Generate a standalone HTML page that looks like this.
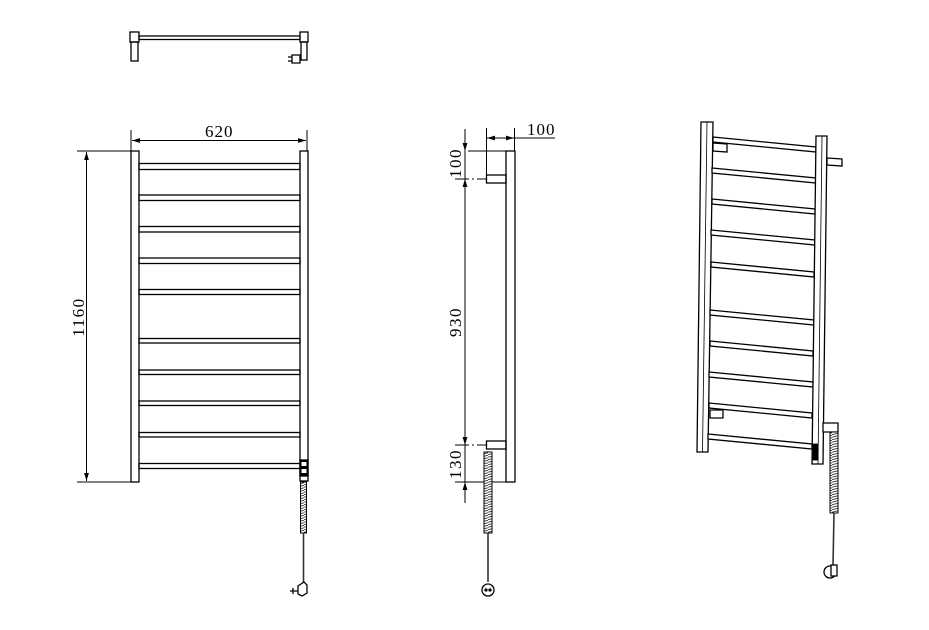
<!DOCTYPE html>
<html><head><meta charset="utf-8"><style>
html,body{margin:0;padding:0;background:#fff;}
svg{display:block;}
text{font-family:"Liberation Serif",serif;font-size:17px;fill:#000;}
</style></head><body>
<svg width="929" height="630" viewBox="0 0 929 630" xmlns="http://www.w3.org/2000/svg">
<defs>
<pattern id="spr" width="8" height="2.5" patternUnits="userSpaceOnUse">
<rect width="8" height="2.5" fill="#fff"/>
<line x1="0" y1="2.2" x2="8" y2="0.3" stroke="#333" stroke-width="0.9"/>
</pattern>
<marker id="ar" viewBox="0 0 10 10" refX="10" refY="5" markerWidth="8" markerHeight="8" orient="auto-start-reverse" markerUnits="userSpaceOnUse"><path d="M0,2 L10,5 L0,8 z" fill="#000"/></marker>
</defs>
<g fill="none" stroke="#000" stroke-width="1.3">
<!-- top view -->
<rect x="139" y="36" width="161" height="3.5"/>
<rect x="130" y="32" width="9" height="10"/>
<rect x="131" y="42" width="7" height="19"/>
<rect x="300" y="32" width="8" height="10"/>
<rect x="301" y="42" width="6" height="18"/>
<path d="M292,55 h8 v8 h-8z M288,57 h4 M288,61 h4" />

<!-- front view -->
<rect x="131" y="151" width="8" height="331"/>
<rect x="300" y="151" width="8" height="330"/>
<g>
<rect x="139" y="163.5" width="161" height="6"/>
<rect x="139" y="195" width="161" height="5.5"/>
<rect x="139" y="226.5" width="161" height="5.5"/>
<rect x="139" y="258" width="161" height="5.5"/>
<rect x="139" y="289.5" width="161" height="5"/>
<rect x="139" y="338.5" width="161" height="4.5"/>
<rect x="139" y="370" width="161" height="4.5"/>
<rect x="139" y="401" width="161" height="4.5"/>
<rect x="139" y="432.5" width="161" height="4.5"/>
<rect x="139" y="463.5" width="161" height="5"/>
</g>
<rect x="300" y="460" width="8" height="16" fill="#000"/>
<rect x="301.5" y="462" width="5" height="4" fill="#fff" stroke="none"/>
<rect x="301.5" y="469" width="5" height="4" fill="#fff" stroke="none"/>
<rect x="300.5" y="482" width="6" height="51" fill="url(#spr)" stroke-width="1"/>
<line x1="303.5" y1="533" x2="303.5" y2="584" stroke-width="1.6" stroke="#333"/>
<path d="M298,586 l6,-4 l3,3 v8 l-5,3 l-4,-2z" fill="#fff"/>
<path d="M290,591 h8 M293,588 v6"/>
<!-- dims front -->
<line x1="131" y1="130" x2="131" y2="151" stroke-width="1"/>
<line x1="307" y1="130" x2="307" y2="151" stroke-width="1"/>
<line x1="132" y1="140.5" x2="306" y2="140.5" stroke-width="1" marker-start="url(#ar)" marker-end="url(#ar)"/>
<line x1="77" y1="151" x2="131" y2="151" stroke-width="1"/>
<line x1="77" y1="482" x2="131" y2="482" stroke-width="1"/>
<line x1="86.5" y1="152" x2="86.5" y2="481" stroke-width="1" marker-start="url(#ar)" marker-end="url(#ar)"/>

<!-- side view -->
<rect x="506" y="151" width="9" height="331"/>
<rect x="486.5" y="175" width="19.5" height="8"/>
<rect x="486.5" y="441" width="19.5" height="8"/>
<line x1="468" y1="151" x2="506" y2="151" stroke-width="1"/>
<line x1="486.5" y1="128" x2="486.5" y2="175" stroke-width="1"/>
<line x1="514.5" y1="128" x2="514.5" y2="151" stroke-width="1"/>
<line x1="487" y1="138" x2="514" y2="138" stroke-width="1" marker-start="url(#ar)" marker-end="url(#ar)"/>
<line x1="514" y1="138" x2="555" y2="138" stroke-width="1"/>
<line x1="465" y1="129" x2="465" y2="503" stroke-width="1"/>
<line x1="465" y1="140" x2="465" y2="151" stroke-width="1" marker-end="url(#ar)"/>
<line x1="465" y1="190" x2="465" y2="179" stroke-width="1" marker-end="url(#ar)"/>
<line x1="465" y1="434" x2="465" y2="445" stroke-width="1" marker-end="url(#ar)"/>
<line x1="465" y1="493" x2="465" y2="482" stroke-width="1" marker-end="url(#ar)"/>
<line x1="455" y1="179" x2="486" y2="179" stroke-width="1" stroke-dasharray="14,3,2,3"/>
<line x1="455" y1="445" x2="486" y2="445" stroke-width="1" stroke-dasharray="14,3,2,3"/>
<line x1="455" y1="482" x2="506" y2="482" stroke-width="1"/>
<rect x="484" y="452" width="8" height="81" fill="url(#spr)" stroke-width="1"/>
<line x1="488" y1="533" x2="488" y2="582" stroke-width="1.6" stroke="#333"/>
<circle cx="488" cy="590" r="6" fill="#fff"/>
<circle cx="486" cy="590" r="1" fill="#000"/><circle cx="490" cy="590" r="1" fill="#000"/>

<!-- perspective view -->
<path d="M701,122 L713,122 L708,452 L697,452 Z" fill="#fff"/>
<line x1="707" y1="122" x2="702.5" y2="452" stroke-width="0.8"/>
<g fill="#fff">
<path d="M713,137 L816,147 L816,152 L713,142 Z"/>
<path d="M712,168 L816,178 L816,183 L712,173 Z"/>
<path d="M712,199 L815,209 L815,214 L712,204 Z"/>
<path d="M711,230 L815,240 L815,245 L711,235 Z"/>
<path d="M711,262 L814,272 L814,277 L711,267 Z"/>
<path d="M710,310 L814,320 L814,325 L710,315 Z"/>
<path d="M710,341 L813,351 L813,356 L710,346 Z"/>
<path d="M709,372 L813,382 L813,387 L709,377 Z"/>
<path d="M709,403 L812,413 L812,418 L709,408 Z"/>
<path d="M708,434 L812,444 L812,449 L708,439 Z"/>
</g>
<path d="M713,143 L727,144 L727,152 L713,151Z" fill="#fff"/>
<path d="M710,410 L723,410 L723,418 L710,418Z" fill="#fff"/>
<path d="M816,136 L827,136 L823,464 L812,464 Z" fill="#fff"/>
<line x1="822" y1="136" x2="818" y2="464" stroke-width="0.8"/>
<path d="M827,158 L842,159 L842,166 L827,165Z" fill="#fff"/>
<path d="M823,423 L838,423 L838,432 L823,432Z" fill="#fff"/>
<rect x="813" y="444" width="5" height="16" fill="#000" stroke-width="0.8"/>
<rect x="830" y="432" width="8" height="81" fill="url(#spr)" stroke-width="1"/>
<line x1="834" y1="513" x2="833" y2="565" stroke-width="1.6" stroke="#333"/>
<circle cx="830" cy="572" r="6" fill="#fff"/>
<rect x="831" y="565" width="6" height="11" fill="#fff"/>
</g>
<text x="205" y="137" letter-spacing="1">620</text>
<text transform="translate(84,317) rotate(-90)" text-anchor="middle" letter-spacing="1.5">1160</text>
<text x="527" y="135" letter-spacing="1">100</text>
<text transform="translate(461,163) rotate(-90)" text-anchor="middle" letter-spacing="1.5">100</text>
<text transform="translate(461,322) rotate(-90)" text-anchor="middle" letter-spacing="1.5">930</text>
<text transform="translate(461,464) rotate(-90)" text-anchor="middle" letter-spacing="1.5">130</text>
</svg>
</body></html>
